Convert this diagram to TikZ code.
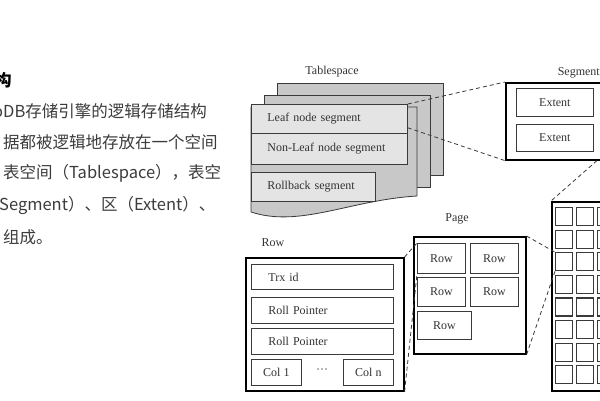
\documentclass[tikz,border=0pt]{standalone}
\usepackage{fontspec}
\setmainfont{Liberation Serif}
\newfontfamily\cjk{Noto Sans CJK SC}
\usetikzlibrary{calc}
\definecolor{txt}{HTML}{333333}
\definecolor{ctxt}{HTML}{3C3C3C}
\definecolor{sheet}{HTML}{C8C8C8}
\definecolor{lite}{HTML}{E4E4E4}
\definecolor{edge}{HTML}{3A3A3A}
\begin{document}
\begin{tikzpicture}[x=1pt,y=-1pt,
  lbl/.style={font=\fontsize{12}{14}\selectfont, text=txt, inner sep=0pt},
  ctext/.style={font=\cjk\fontsize{16.5}{20}\selectfont, text=ctxt, inner sep=0pt, anchor=west},
  wh/.style 2 args={minimum width=#1, minimum height=#2},
  sheetbox/.style={draw=edge, fill=sheet, line width=0.8pt},
  segbox/.style={draw=edge, fill=lite, line width=0.8pt, anchor=north west, inner sep=0pt,
    font=\fontsize{12}{14}\selectfont, text=txt, align=left},
  heavybox/.style={draw=black, fill=white, line width=1.6pt, anchor=north west, inner sep=0pt},
  inbox/.style={draw=edge, fill=white, line width=0.8pt, anchor=north west, inner sep=0pt,
    font=\fontsize{12}{14}\selectfont, text=txt},
  cellbox/.style={draw=edge, fill=white, line width=1.1pt, anchor=north west, inner sep=0pt,
    minimum width=17, minimum height=18},
  dashline/.style={draw=edge, line width=0.8pt, dash pattern=on 4pt off 3pt}
]
\useasboundingbox (0,0) rectangle (600,400);
\clip (0,0) rectangle (600,400);
\fill[white] (0,0) rectangle (600,400);

% ---------- left text ----------
\node[ctext, font=\cjk\bfseries\fontsize{16.5}{20}\selectfont, text=black] (h) at (-5,80) {构};
\node[ctext] (t1) at (-7,111) {oDB存储引擎的逻辑存储结构};
\node[ctext] (t2) at (3,142) {据都被逻辑地存放在一个空间};
\node[ctext] (t3) at (3,173) {表空间（Tablespace），表空};
\node[ctext] (t4) at (-1,205) {Segment）、区（Extent）、};
\node[ctext] (t5) at (3,237) {组成。};

% ---------- tablespace ----------
\node[lbl] (tslbl) at (332,72) {Tablespace};
\draw[sheetbox] (277,83) rectangle (443,175);
\draw[sheetbox] (264,95) rectangle (430,187);
\draw[sheetbox] (251,107) -- (417,107) -- (417,196)
  .. controls (350,200) and (300,228) .. (251,212) -- cycle;
\node[segbox, wh={156}{29}, text width=124] (leaf) at (251,104) {Leaf node segment};
\node[segbox, wh={156}{31}, text width=124] (nonleaf) at (251,133) {Non-Leaf node segment};
\node[segbox, wh={124}{29}, text width=92] (rollback) at (251,172) {Rollback segment};

% ---------- segment ----------
\node[heavybox, wh={125}{77}] (seg) at (505,82) {};
\node[lbl, anchor=east] (seglbl) at (600,73) {Segment};
\node[inbox, wh={77}{28}] (ext1) at (516,88) {Extent};
\node[inbox, wh={77}{27}] (ext2) at (516,124) {Extent};

% ---------- extent grid ----------
\node[heavybox, wh={80}{189}] (grid) at (551,201) {};
\foreach \i in {0,...,7}
  \foreach \j in {0,1,2}
    \node[cellbox] (c\i\j) at (555+21*\j,207+22.6*\i) {};

% ---------- page ----------
\node[lbl] (pagelbl) at (457,219) {Page};
\node[heavybox, wh={112}{117}] (page) at (413,236) {};
\node[inbox, wh={48}{30}] (r11) at (417,243) {Row};
\node[inbox, wh={48}{30}] (r12) at (470,243) {Row};
\node[inbox, wh={48}{29}] (r21) at (417,277) {Row};
\node[inbox, wh={48}{29}] (r22) at (470,277) {Row};
\node[inbox, wh={54}{28}] (r31) at (417,311) {Row};

% ---------- row ----------
\node[lbl] (rowlbl) at (273,243) {Row};
\node[heavybox, wh={158}{133}] (rowbox) at (245,257) {};
\node[inbox, wh={142}{25}, text width=108, align=left] (trx) at (251,264) {Trx id};
\node[inbox, wh={142}{26}, text width=108, align=left] (rp1) at (251,297) {Roll Pointer};
\node[inbox, wh={142}{26}, text width=108, align=left] (rp2) at (251,328) {Roll Pointer};
\node[inbox, wh={50}{26}] (col1) at (251,359) {Col 1};
\node[inbox, wh={50}{26}] (coln) at (343,359) {Col n};
\node[lbl] (dots) at (322,371) {···};

% ---------- dashed connectors ----------
\draw[dashline] (leaf.north east) -- (seg.north west);
\draw[dashline] ([yshift=6pt]leaf.south east) -- (seg.south west);
\coordinate (segb) at ($(seg.south west)+(92,0)$);
\draw[dashline] (segb) -- (grid.north west);
\draw[dashline] (page.north east) -- (c20.north west);
\draw[dashline] (page.south east) -- (c20.south west);
\draw[dashline] (rowbox.north east) -- (r11.north west);
\draw[dashline] (rowbox.south east) -- (r11.south west);
\end{tikzpicture}
\end{document}
